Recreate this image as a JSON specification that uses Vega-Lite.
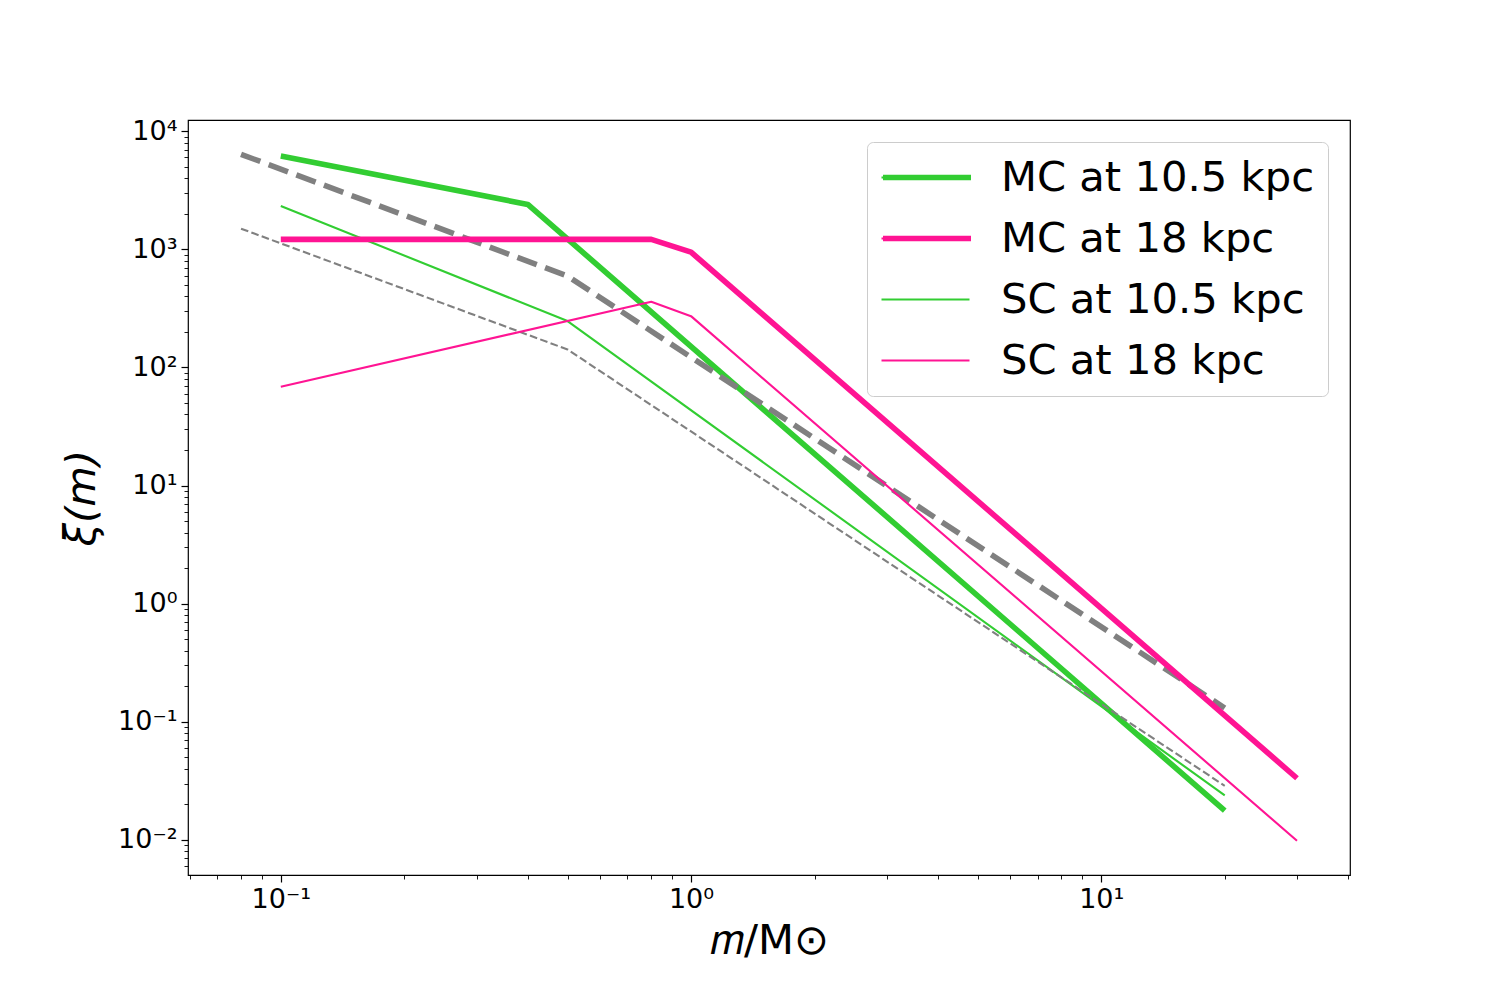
{
  "$schema": "https://vega.github.io/schema/vega-lite/v6.json",
  "width": 1162,
  "height": 755,
  "autosize": "none",
  "padding": {"left": 188, "top": 120, "right": 150, "bottom": 125},
  "background": "white",
  "config": {
    "font": "DejaVu Sans",
    "view": {"stroke": "black", "strokeWidth": 1.2},
    "line": {"strokeCap": "butt", "strokeJoin": "round"},
    "axis": {
      "domain": false,
      "grid": false,
      "tickColor": "black",
      "labelColor": "black",
      "titleColor": "black",
      "labelFont": "DejaVu Sans",
      "titleFont": "DejaVu Sans",
      "labelFontSize": 27,
      "titleFontSize": 41.7,
      "titleFontWeight": "normal"
    },
    "legend": {
      "orient": "none",
      "legendX": 679,
      "legendY": 22,
      "padding": 13,
      "labelFont": "DejaVu Sans",
      "labelFontSize": 41.7,
      "labelLimit": 600,
      "labelOffset": 30,
      "symbolType": "stroke",
      "symbolSize": 7744,
      "clipHeight": 45,
      "rowPadding": 16
    }
  },
  "datasets": {
    "ifmf": [
      {"series": "MC at 10.5 kpc", "m": 0.1, "xi": 6170},
      {"series": "MC at 10.5 kpc", "m": 0.4, "xi": 2400},
      {"series": "MC at 10.5 kpc", "m": 20, "xi": 0.0177},
      {"series": "SC at 10.5 kpc", "m": 0.1, "xi": 2330},
      {"series": "SC at 10.5 kpc", "m": 0.5, "xi": 247},
      {"series": "SC at 10.5 kpc", "m": 20, "xi": 0.0238},
      {"series": "MC at 18 kpc", "m": 0.1, "xi": 1216},
      {"series": "MC at 18 kpc", "m": 0.8, "xi": 1216},
      {"series": "MC at 18 kpc", "m": 1.0, "xi": 948},
      {"series": "MC at 18 kpc", "m": 30, "xi": 0.0333},
      {"series": "SC at 18 kpc", "m": 0.1, "xi": 68.6},
      {"series": "SC at 18 kpc", "m": 0.8, "xi": 360},
      {"series": "SC at 18 kpc", "m": 1.0, "xi": 272},
      {"series": "SC at 18 kpc", "m": 30, "xi": 0.00986}
    ],
    "canonical": [
      {"series": "thick", "m": 0.08, "xi": 6380},
      {"series": "thick", "m": 0.5, "xi": 594},
      {"series": "thick", "m": 20, "xi": 0.131},
      {"series": "thin", "m": 0.08, "xi": 1497},
      {"series": "thin", "m": 0.5, "xi": 142},
      {"series": "thin", "m": 20, "xi": 0.0287}
    ]
  },
  "resolve": {"axis": {"x": "independent", "y": "independent"}},
  "layer": [
    {
      "data": {"name": "ifmf"},
      "transform": [{"filter": "datum.series == 'MC at 10.5 kpc'"}],
      "mark": {"type": "line", "strokeWidth": 5.6},
      "encoding": {
        "x": {
          "field": "m", "type": "quantitative",
          "scale": {"type": "log", "domain": [0.0594, 40.4], "nice": false},
          "title": "𝑚/M⊙",
          "axis": {
            "orient": "bottom",
            "values": [0.1, 1, 10],
            "labelExpr": "'10' + (round(log(datum.value)/LN10) < 0 ? '⁻' : '') + ['⁰','¹','²','³','⁴'][abs(round(log(datum.value)/LN10))]",
            "tickSize": 7, "tickWidth": 1.2, "labelPadding": 4, "titlePadding": 8
          }
        },
        "y": {
          "field": "xi", "type": "quantitative",
          "scale": {"type": "log", "domain": [0.00505, 12450], "nice": false},
          "title": "ξ(m)",
          "axis": {
            "orient": "left",
            "values": [0.01, 0.1, 1, 10, 100, 1000, 10000],
            "labelExpr": "'10' + (round(log(datum.value)/LN10) < 0 ? '⁻' : '') + ['⁰','¹','²','³','⁴'][abs(round(log(datum.value)/LN10))]",
            "tickSize": 7, "tickWidth": 1.2, "labelPadding": 4,
            "titleFontStyle": "italic", "titlePadding": 14
          }
        },
        "stroke": {
          "field": "series", "type": "nominal", "title": null,
          "scale": {"domain": ["MC at 10.5 kpc", "MC at 18 kpc"], "range": ["#32cd32", "#ff1493"]},
          "legend": {
            "symbolStrokeWidth": 5.6,
            "labelColor": "transparent",
            "fillColor": "transparent",
            "strokeColor": "transparent",
            "zindex": 5
          }
        }
      }
    },
    {
      "data": {"name": "ifmf"},
      "transform": [{"filter": "datum.series == 'SC at 10.5 kpc'"}],
      "mark": {"type": "line", "strokeWidth": 2.1},
      "encoding": {
        "x": {"field": "m", "type": "quantitative", "scale": {"type": "log", "domain": [0.0594, 40.4], "nice": false}, "axis": null},
        "y": {"field": "xi", "type": "quantitative", "scale": {"type": "log", "domain": [0.00505, 12450], "nice": false}, "axis": null},
        "color": {
          "field": "series", "type": "nominal", "title": null,
          "scale": {
            "domain": ["MC at 10.5 kpc", "MC at 18 kpc", "SC at 10.5 kpc", "SC at 18 kpc"],
            "range": ["#32cd32", "#ff1493", "#32cd32", "#ff1493"]
          },
          "legend": {
            "symbolStrokeWidth": 2.1,
            "labelColor": "black",
            "fillColor": "white",
            "strokeColor": "#cccccc",
            "cornerRadius": 6,
            "zindex": 1
          }
        }
      }
    },
    {
      "data": {"name": "canonical"},
      "transform": [{"filter": "datum.series == 'thick'"}],
      "mark": {"type": "line", "color": "#808080", "strokeWidth": 5.6, "strokeDash": [20.6, 8.9]},
      "encoding": {
        "x": {
          "field": "m", "type": "quantitative",
          "scale": {"type": "log", "domain": [0.0594, 40.4], "nice": false},
          "axis": {
            "orient": "bottom", "title": null, "labels": false,
            "values": [0.06, 0.07, 0.08, 0.09, 0.2, 0.3, 0.4, 0.5, 0.6, 0.7, 0.8, 0.9, 2, 3, 4, 5, 6, 7, 8, 9, 20, 30, 40],
            "tickSize": 4, "tickWidth": 0.9
          }
        },
        "y": {
          "field": "xi", "type": "quantitative",
          "scale": {"type": "log", "domain": [0.00505, 12450], "nice": false},
          "axis": {
            "orient": "left", "title": null, "labels": false,
            "values": [0.006, 0.007, 0.008, 0.009, 0.02, 0.03, 0.04, 0.05, 0.06, 0.07, 0.08, 0.09, 0.2, 0.3, 0.4, 0.5, 0.6, 0.7, 0.8, 0.9, 2, 3, 4, 5, 6, 7, 8, 9, 20, 30, 40, 50, 60, 70, 80, 90, 200, 300, 400, 500, 600, 700, 800, 900, 2000, 3000, 4000, 5000, 6000, 7000, 8000, 9000],
            "tickSize": 4, "tickWidth": 0.9
          }
        }
      }
    },
    {
      "data": {"name": "canonical"},
      "transform": [{"filter": "datum.series == 'thin'"}],
      "mark": {"type": "line", "color": "#808080", "strokeWidth": 2.1, "strokeDash": [7.7, 3.3]},
      "encoding": {
        "x": {"field": "m", "type": "quantitative", "scale": {"type": "log", "domain": [0.0594, 40.4], "nice": false}, "axis": null},
        "y": {"field": "xi", "type": "quantitative", "scale": {"type": "log", "domain": [0.00505, 12450], "nice": false}, "axis": null}
      }
    },
    {
      "data": {"name": "ifmf"},
      "transform": [{"filter": "datum.series == 'MC at 18 kpc'"}],
      "mark": {"type": "line", "strokeWidth": 5.6},
      "encoding": {
        "x": {"field": "m", "type": "quantitative", "scale": {"type": "log", "domain": [0.0594, 40.4], "nice": false}, "axis": null},
        "y": {"field": "xi", "type": "quantitative", "scale": {"type": "log", "domain": [0.00505, 12450], "nice": false}, "axis": null},
        "stroke": {"field": "series", "type": "nominal", "title": null}
      }
    },
    {
      "data": {"name": "ifmf"},
      "transform": [{"filter": "datum.series == 'SC at 18 kpc'"}],
      "mark": {"type": "line", "strokeWidth": 2.1},
      "encoding": {
        "x": {"field": "m", "type": "quantitative", "scale": {"type": "log", "domain": [0.0594, 40.4], "nice": false}, "axis": null},
        "y": {"field": "xi", "type": "quantitative", "scale": {"type": "log", "domain": [0.00505, 12450], "nice": false}, "axis": null},
        "color": {"field": "series", "type": "nominal", "title": null}
      }
    }
  ]
}
